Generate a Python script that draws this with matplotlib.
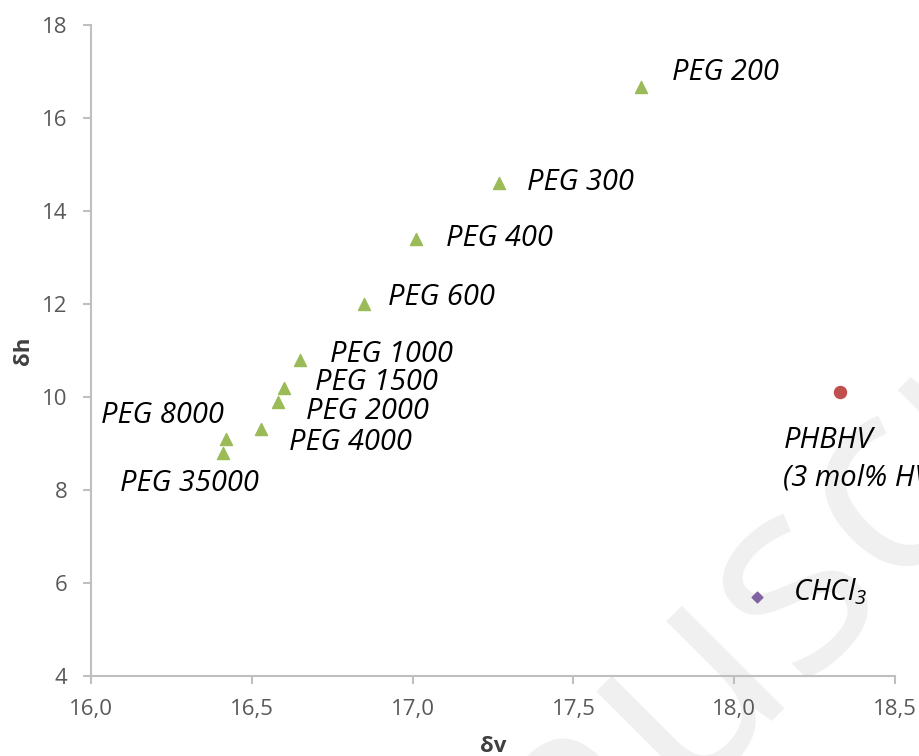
import matplotlib
matplotlib.use("Agg")
import matplotlib.pyplot as plt
from matplotlib.ticker import MultipleLocator, FuncFormatter

# Hansen solubility parameters (MPa^0.5)
peg_names = ["PEG 200", "PEG 300", "PEG 400", "PEG 600", "PEG 1000",
             "PEG 1500", "PEG 2000", "PEG 4000", "PEG 8000", "PEG 35000"]
peg_dv = [17.71, 17.27, 17.01, 16.85, 16.65, 16.60, 16.58, 16.53, 16.42, 16.41]
peg_dh = [16.67, 14.60, 13.40, 12.0, 10.8, 10.2, 9.9, 9.3, 9.1, 8.8]

polymer_name = "PHBHV\n(3 mol% HV)"
polymer_dv = [18.33]
polymer_dh = [10.1]

solvent_name = r"CHCl$_3$"
solvent_dv = [18.07]
solvent_dh = [5.7]

# label offsets in pixels from each marker
peg_offsets = [(31, 14), (28, 1), (30, 0), (24, 6), (30, 5),
               (31, 5), (28, -10), (28, -13), (-125, 23), (-103, -31)]

plt.rcParams["font.family"] = ["Open Sans", "DejaVu Sans"]
plt.rcParams["mathtext.fontset"] = "custom"
plt.rcParams["mathtext.rm"] = "Open Sans:italic"
plt.rcParams["mathtext.it"] = "Open Sans:italic"

fig = plt.figure(figsize=(9.19, 7.56), dpi=100)

# faint diagonal watermark behind the plot
fig.text(0.80, 0.165, "Manuscript", fontsize=195, color="#f0f0f0",
         rotation=45, ha="center", va="center", rotation_mode="anchor",
         zorder=0)

ax = fig.add_axes([0.099, 0.106, 0.875, 0.861])
ax.set_zorder(1)
ax.patch.set_alpha(0)

ax.scatter(peg_dv, peg_dh, marker="^", s=75, color="#9bbb59", zorder=3)
ax.scatter(polymer_dv, polymer_dh, marker="o", s=75, color="#c0504d", zorder=3)
ax.scatter(solvent_dv, solvent_dh, marker="D", s=30, color="#8064a2", zorder=3)

label_style = dict(textcoords="offset pixels", fontsize=21, style="italic",
                   color="black", ha="left", va="center", annotation_clip=False)
for name, x, y, (dx, dy) in zip(peg_names, peg_dv, peg_dh, peg_offsets):
    ax.annotate(name, (x, y), xytext=(dx, dy), **label_style)

ax.annotate(polymer_name, (polymer_dv[0], polymer_dh[0]), xytext=(-57, -67),
            linespacing=1.35, **label_style)
ax.annotate(solvent_name, (solvent_dv[0], solvent_dh[0]), xytext=(36, 5),
            **label_style)

ax.set_xlim(16.0, 18.5)
ax.set_ylim(4, 18)
ax.xaxis.set_major_locator(MultipleLocator(0.5))
ax.yaxis.set_major_locator(MultipleLocator(2))
ax.xaxis.set_major_formatter(FuncFormatter(lambda v, p: f"{v:.1f}".replace(".", ",")))
ax.yaxis.set_major_formatter(FuncFormatter(lambda v, p: f"{v:.0f}"))

for side in ("top", "right"):
    ax.spines[side].set_visible(False)
for side in ("left", "bottom"):
    ax.spines[side].set_color("#bfbfbf")
    ax.spines[side].set_linewidth(1.5)
ax.tick_params(axis="both", colors="#bfbfbf", labelcolor="#595959",
               labelsize=16, length=6, width=1.5, direction="out")
ax.tick_params(axis="x", pad=11)
ax.tick_params(axis="y", pad=11)

ax.set_xlabel("δv", fontsize=16, fontweight="bold", color="#404040", labelpad=11)
ax.set_ylabel("δh", fontsize=16, fontweight="bold", color="#404040", labelpad=6)

fig.savefig("out.png", dpi=100)
